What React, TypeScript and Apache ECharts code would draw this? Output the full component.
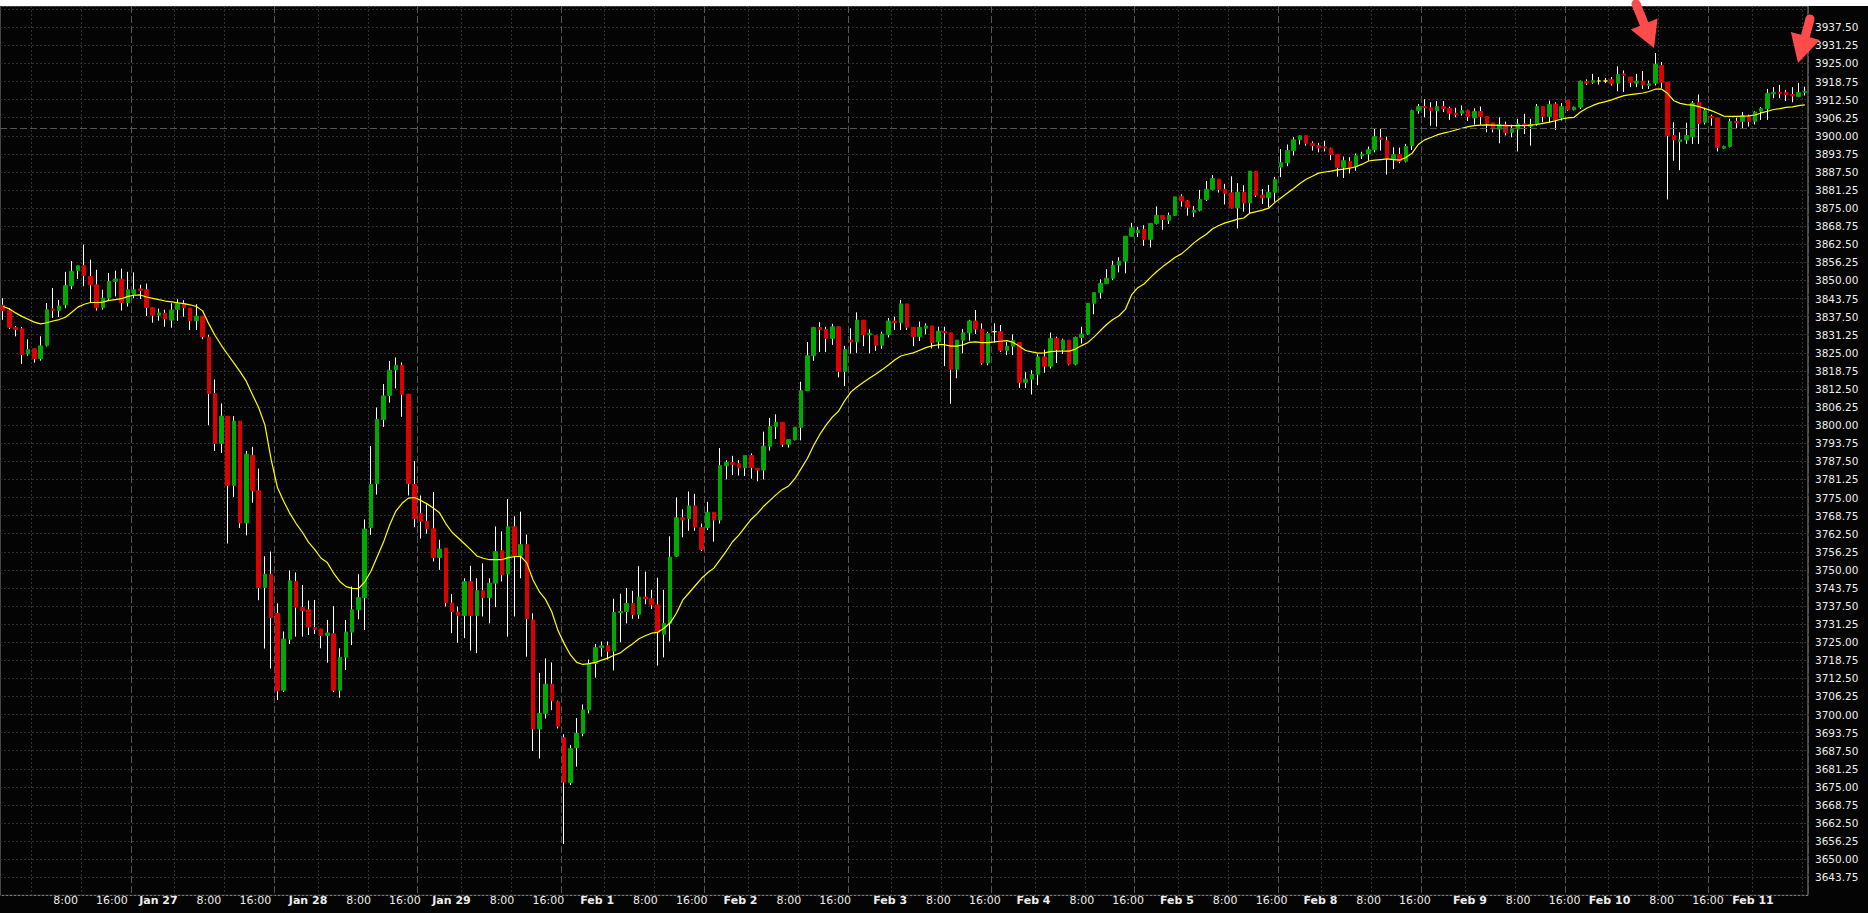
import React, { useEffect, useRef } from "react";
import * as echarts from "echarts";

// ---- data (hourly ES bars) ----
const dayNames = ["Jan 26", "Jan 27", "Jan 28", "Jan 29", "Feb 1", "Feb 2", "Feb 3", "Feb 4", "Feb 5", "Feb 8", "Feb 9", "Feb 10", "Feb 11"];
const hoursOfDay = ["0:00", "1:00", "2:00", "3:00", "4:00", "6:00", "7:00", "8:00", "9:00", "10:00", "11:00", "12:00", "13:00", "14:00", "15:00", "16:00", "17:00", "18:00", "19:00", "20:00", "21:00", "22:00", "23:00"];
const firstHourIndex = 2;

const openP = [
  3841.5, 3839.6, 3833.7, 3833.3, 3824.6, 3826.4, 3823.0, 3827.6, 3840.2, 3839.6, 3841.6, 3848.2, 3853.5, 3855.1, 3851.4, 3848.5, 3840.6, 3843.9, 3849.7, 3850.5, 3842.4,
  3845.1, 3847.1, 3846.8, 3840.6, 3838.0, 3838.7, 3836.3, 3840.0, 3842.1, 3840.5, 3836.1, 3837.7, 3830.4, 3810.9, 3793.7, 3803.1, 3779.2, 3801.4, 3766.2, 3789.6, 3777.3, 3743.9, 3748.5,
  3734.9, 3708.4, 3726.0, 3746.0, 3737.0, 3736.2, 3730.0, 3729.6, 3727.3, 3727.9, 3708.4, 3719.8, 3728.5, 3736.2, 3740.4, 3764.6, 3779.8, 3802.0, 3810.3, 3819.1, 3820.7, 3810.7, 3779.5,
  3769.5, 3766.8, 3764.2, 3754.3, 3757.5, 3738.5, 3735.4, 3734.2, 3745.9, 3734.2, 3742.8, 3740.4, 3745.4, 3756.6, 3748.6, 3764.9, 3755.0, 3758.7, 3732.7, 3695.0, 3700.4, 3710.5, 3704.4,
  3692.0, 3676.5, 3688.5, 3693.5, 3701.6, 3717.6, 3723.1, 3723.75, 3721.9, 3735.25, 3735.6, 3738.4, 3734.6, 3740.6, 3740.0, 3737.9, 3727.75, 3731.5, 3754.75, 3768.0, 3767.75, 3772.1, 3764.6,
  3764.6, 3769.9, 3767.25, 3786.0, 3787.1, 3786.75, 3785.25, 3789.5, 3785.1, 3784.5, 3792.75, 3799.5, 3801.0, 3793.4, 3795.0, 3799.25, 3811.9, 3824.0, 3833.75, 3833.1, 3830.0, 3834.0, 3818.5,
  3829.4, 3828.8, 3836.3, 3831.2, 3831.0, 3827.6, 3831.4, 3836.0, 3835.4, 3841.9, 3833.8, 3830.6, 3833.5, 3834.3, 3828.8, 3832.4, 3831.9, 3819.3, 3829.4, 3831.9, 3836.0, 3833.2, 3821.5,
  3832.3, 3832.3, 3825.9, 3827.3, 3828.5, 3814.8, 3815.9, 3817.6, 3823.6, 3820.4, 3830.0, 3826.2, 3829.4, 3821.1, 3830.3, 3831.5, 3842.1, 3845.8, 3849.0, 3850.8, 3855.3, 3856.7, 3865.3,
  3866.5, 3867.7, 3864.2, 3869.7, 3872.5, 3870.8, 3872.5, 3879.1, 3877.5, 3873.6, 3874.3, 3878.0, 3881.5, 3885.0, 3881.5, 3880.3, 3875.1, 3880.5, 3876.8, 3887.8, 3879.5, 3878.6, 3880.5,
  3889.2, 3890.7, 3894.9, 3898.6, 3900.0, 3897.4, 3896.6, 3896.2, 3895.7, 3893.5, 3889.1, 3891.2, 3889.3, 3893.1, 3893.7, 3895.2, 3899.3, 3898.3, 3892.0, 3893.5, 3891.2, 3896.6, 3908.7,
  3910.1, 3909.7, 3908.7, 3910.1, 3909.4, 3907.8, 3907.8, 3908.7, 3906.2, 3908.4, 3906.7, 3904.5, 3902.3, 3903.8, 3901.2, 3902.3, 3904.1, 3903.3, 3904.1, 3910.1, 3906.7, 3911.0, 3906.2,
  3912.2, 3909.0, 3909.9, 3918.8, 3918.5, 3918.95, 3918.95, 3919.5, 3918.2, 3921.4, 3920.3, 3918.2, 3918.9, 3917.4, 3918.2, 3924.3, 3918.5, 3900.1, 3898.0, 3898.6, 3899.7, 3911.6, 3904.7,
  3906.7, 3906.2, 3895.7, 3896.3, 3905.0, 3905.0, 3906.7, 3905.0, 3908.5, 3909.4, 3914.5, 3915.0, 3915.0, 3914.3, 3913.6, 3915.0,
];

const closeP = [
  3839.6, 3833.8, 3833.1, 3824.4, 3826.1, 3823.0, 3827.4, 3839.9, 3839.6, 3841.2, 3848.2, 3853.2, 3855.1, 3851.8, 3848.5, 3840.6, 3843.9, 3849.7, 3850.5, 3842.4, 3846.8,
  3846.8, 3846.6, 3840.7, 3838.0, 3838.8, 3836.7, 3839.8, 3842.0, 3840.6, 3836.1, 3837.7, 3830.6, 3810.9, 3793.7, 3803.1, 3779.2, 3801.4, 3766.2, 3790.0, 3777.3, 3743.9, 3748.5, 3733.5,
  3708.2, 3726.1, 3746.2, 3737.1, 3735.9, 3730.2, 3729.4, 3727.3, 3728.2, 3708.4, 3719.8, 3728.5, 3736.2, 3740.4, 3764.1, 3779.5, 3802.0, 3810.1, 3819.0, 3820.7, 3810.7, 3779.8, 3767.7,
  3766.8, 3764.2, 3754.3, 3757.2, 3738.7, 3735.6, 3734.2, 3745.9, 3734.2, 3742.8, 3740.4, 3745.4, 3756.3, 3748.3, 3764.9, 3755.0, 3758.7, 3733.2, 3695.0, 3700.4, 3710.5, 3704.8, 3696.0,
  3676.7, 3688.2, 3693.5, 3701.6, 3717.6, 3723.1, 3723.75, 3721.9, 3735.25, 3735.6, 3738.4, 3734.6, 3740.6, 3740.0, 3737.9, 3728.4, 3731.5, 3754.4, 3768.0, 3767.25, 3772.1, 3764.75, 3757.1,
  3769.9, 3767.25, 3786.0, 3787.1, 3786.5, 3785.25, 3789.5, 3785.4, 3784.5, 3792.75, 3799.5, 3801.0, 3793.4, 3795.0, 3799.25, 3811.9, 3824.0, 3833.75, 3833.0, 3830.0, 3834.0, 3818.5, 3826.1,
  3828.8, 3836.3, 3831.2, 3831.7, 3827.6, 3831.5, 3836.0, 3835.4, 3841.9, 3833.8, 3830.6, 3833.8, 3834.3, 3828.5, 3832.5, 3831.9, 3819.3, 3829.4, 3831.9, 3836.0, 3833.2, 3821.5, 3831.7,
  3832.3, 3825.9, 3827.3, 3829.2, 3814.8, 3815.9, 3817.6, 3823.6, 3820.4, 3830.0, 3826.2, 3829.4, 3821.1, 3830.3, 3831.5, 3842.1, 3845.8, 3849.0, 3850.8, 3855.3, 3856.7, 3865.3, 3868.2,
  3867.4, 3864.2, 3869.7, 3872.5, 3871.1, 3872.5, 3878.9, 3877.5, 3875.3, 3874.3, 3878.0, 3881.5, 3885.2, 3881.5, 3880.1, 3875.1, 3880.5, 3876.8, 3887.8, 3879.5, 3878.6, 3880.5, 3884.9,
  3890.7, 3894.9, 3898.6, 3900.0, 3897.4, 3896.6, 3895.8, 3895.8, 3893.5, 3889.1, 3891.4, 3889.1, 3893.1, 3893.7, 3895.2, 3899.7, 3898.7, 3892.2, 3893.5, 3891.2, 3896.3, 3908.7, 3910.1,
  3909.7, 3908.7, 3910.1, 3909.5, 3907.8, 3907.3, 3908.7, 3906.7, 3908.4, 3906.7, 3904.3, 3902.3, 3903.8, 3901.2, 3902.3, 3904.1, 3903.5, 3903.8, 3910.1, 3906.7, 3910.8, 3905.5, 3910.1,
  3909.0, 3909.9, 3918.8, 3918.2, 3919.1, 3918.95, 3918.95, 3918.0, 3921.2, 3920.9, 3918.5, 3918.9, 3917.6, 3918.0, 3924.7, 3918.5, 3900.1, 3898.6, 3898.6, 3900.1, 3911.3, 3904.3, 3908.7,
  3906.2, 3896.0, 3896.3, 3905.0, 3904.5, 3906.8, 3905.0, 3908.2, 3909.4, 3914.7, 3915.0, 3914.5, 3914.2, 3913.8, 3915.0, 3915.4,
];

const lowP = [
  3836.4, 3833.2, 3830.7, 3821.2, 3824.0, 3821.6, 3822.3, 3827.2, 3837.1, 3837.4, 3840.4, 3847.0, 3850.5, 3848.0, 3842.2, 3839.6, 3839.9, 3843.3, 3844.5, 3839.6, 3841.0,
  3843.9, 3843.6, 3837.7, 3835.4, 3836.1, 3834.0, 3833.7, 3836.1, 3837.5, 3832.9, 3832.9, 3829.7, 3800.0, 3791.1, 3790.4, 3759.1, 3775.2, 3764.5, 3761.9, 3773.2, 3739.5, 3722.8, 3715.9,
  3705.0, 3707.8, 3724.4, 3726.9, 3726.9, 3727.5, 3727.8, 3722.9, 3717.9, 3707.8, 3705.8, 3715.4, 3724.0, 3732.9, 3729.2, 3762.1, 3776.0, 3799.4, 3807.8, 3812.7, 3802.9, 3775.7, 3764.7,
  3760.8, 3762.5, 3752.9, 3750.0, 3737.3, 3728.1, 3724.8, 3726.4, 3722.1, 3721.2, 3733.9, 3731.5, 3737.1, 3746.0, 3726.9, 3733.9, 3747.1, 3720.0, 3687.4, 3684.8, 3698.6, 3701.5, 3695.2,
  3655.3, 3675.6, 3682.0, 3692.5, 3700.4, 3712.75, 3720.0, 3719.0, 3715.25, 3725.0, 3731.5, 3733.1, 3733.1, 3738.1, 3736.5, 3716.9, 3719.75, 3725.25, 3754.5, 3761.25, 3763.5, 3763.5, 3756.5,
  3763.75, 3759.75, 3766.0, 3781.25, 3782.75, 3782.6, 3782.4, 3781.5, 3780.6, 3781.25, 3791.25, 3795.25, 3792.5, 3792.25, 3794.75, 3794.75, 3811.9, 3822.25, 3825.25, 3825.25, 3827.75, 3816.5, 3813.5,
  3824.7, 3825.0, 3827.3, 3824.8, 3825.7, 3826.4, 3830.3, 3832.9, 3832.9, 3832.9, 3827.3, 3829.1, 3831.4, 3826.5, 3826.5, 3820.4, 3807.4, 3816.2, 3824.8, 3829.2, 3831.5, 3820.9, 3820.7,
  3828.5, 3825.3, 3824.2, 3824.2, 3812.9, 3812.9, 3810.6, 3813.8, 3818.1, 3819.6, 3821.5, 3824.6, 3820.7, 3820.7, 3828.2, 3831.2, 3838.3, 3843.8, 3848.9, 3850.2, 3852.8, 3852.5, 3865.3,
  3865.0, 3862.0, 3861.4, 3869.4, 3867.5, 3869.5, 3872.3, 3875.5, 3872.4, 3871.9, 3873.9, 3877.5, 3881.2, 3880.4, 3876.3, 3874.9, 3868.0, 3873.8, 3873.0, 3878.9, 3876.4, 3875.3, 3877.2,
  3885.7, 3889.5, 3893.2, 3897.0, 3896.6, 3894.9, 3894.3, 3894.6, 3891.6, 3885.9, 3885.4, 3887.0, 3887.9, 3892.0, 3891.4, 3894.3, 3894.9, 3886.6, 3888.5, 3890.5, 3890.8, 3895.1, 3907.6,
  3906.4, 3903.5, 3903.2, 3908.2, 3905.5, 3906.4, 3907.0, 3905.1, 3903.9, 3903.8, 3901.2, 3901.2, 3897.4, 3900.1, 3899.5, 3894.6, 3900.6, 3896.6, 3903.5, 3904.7, 3904.4, 3902.0, 3905.3,
  3908.6, 3908.8, 3909.3, 3917.6, 3918.0, 3917.7, 3918.2, 3917.4, 3915.4, 3915.1, 3916.8, 3916.8, 3916.2, 3916.2, 3917.4, 3916.6, 3878.0, 3891.4, 3888.1, 3897.2, 3897.2, 3897.2, 3903.9,
  3903.5, 3894.6, 3895.4, 3896.0, 3902.4, 3902.6, 3903.2, 3903.9, 3905.5, 3905.5, 3913.0, 3913.0, 3912.0, 3911.6, 3913.35, 3913.9,
];

const highP = [
  3843.9, 3840.4, 3834.3, 3833.9, 3829.7, 3826.4, 3830.7, 3842.2, 3847.4, 3843.3, 3853.0, 3856.7, 3855.2, 3862.4, 3857.2, 3853.7, 3846.8, 3852.6, 3853.4, 3854.1, 3853.0,
  3852.8, 3848.5, 3848.9, 3840.6, 3840.3, 3839.9, 3842.1, 3843.5, 3843.2, 3840.5, 3841.8, 3837.7, 3831.2, 3815.8, 3807.5, 3803.1, 3803.1, 3801.4, 3791.1, 3792.5, 3785.0, 3754.7, 3756.3,
  3738.4, 3728.7, 3749.8, 3749.1, 3744.8, 3739.4, 3739.6, 3729.6, 3732.7, 3737.5, 3722.9, 3732.7, 3744.2, 3748.5, 3767.4, 3792.8, 3806.1, 3814.2, 3822.2, 3823.4, 3821.7, 3810.7, 3787.6,
  3775.7, 3772.6, 3776.9, 3760.4, 3757.5, 3741.6, 3737.3, 3747.1, 3751.4, 3747.1, 3752.3, 3747.1, 3765.0, 3763.3, 3774.5, 3768.5, 3770.1, 3762.2, 3735.0, 3714.4, 3719.4, 3718.0, 3704.8,
  3693.2, 3689.4, 3698.75, 3703.5, 3719.0, 3724.4, 3725.25, 3725.25, 3740.0, 3741.75, 3743.75, 3742.75, 3751.25, 3749.4, 3743.1, 3747.25, 3743.1, 3761.6, 3775.0, 3770.9, 3777.1, 3776.25, 3766.0,
  3773.5, 3769.9, 3792.1, 3787.9, 3789.4, 3787.9, 3789.5, 3790.25, 3785.1, 3797.75, 3802.5, 3803.75, 3801.0, 3795.0, 3799.25, 3815.0, 3828.75, 3834.0, 3835.6, 3834.0, 3835.0, 3834.0, 3827.4,
  3833.5, 3839.0, 3836.3, 3833.1, 3831.0, 3832.3, 3837.0, 3837.5, 3843.3, 3841.9, 3833.8, 3835.8, 3835.2, 3834.3, 3834.0, 3834.0, 3831.9, 3829.4, 3833.2, 3836.4, 3839.8, 3835.2, 3832.3,
  3835.2, 3834.6, 3828.8, 3831.4, 3828.5, 3818.3, 3819.0, 3824.5, 3826.1, 3832.0, 3830.6, 3829.9, 3829.4, 3830.6, 3834.0, 3842.1, 3845.8, 3850.4, 3853.9, 3856.8, 3858.0, 3865.3, 3869.9,
  3868.5, 3869.1, 3869.7, 3875.6, 3872.5, 3873.5, 3878.9, 3879.8, 3877.8, 3875.7, 3881.3, 3884.4, 3886.4, 3885.0, 3883.4, 3886.0, 3883.6, 3882.9, 3887.8, 3887.8, 3881.6, 3883.0, 3885.8,
  3895.4, 3897.0, 3899.5, 3900.1, 3900.1, 3898.1, 3897.5, 3898.3, 3895.9, 3893.5, 3892.8, 3892.6, 3893.9, 3894.5, 3896.3, 3902.4, 3902.5, 3899.7, 3896.0, 3895.9, 3897.2, 3909.0, 3911.0,
  3912.6, 3911.6, 3912.0, 3912.0, 3910.1, 3909.7, 3910.5, 3909.0, 3909.5, 3910.1, 3906.7, 3904.5, 3906.4, 3904.9, 3903.8, 3905.9, 3907.6, 3905.9, 3911.0, 3910.1, 3912.2, 3911.6, 3911.3,
  3912.2, 3910.1, 3919.1, 3919.5, 3921.4, 3920.3, 3920.0, 3920.3, 3924.0, 3922.6, 3920.3, 3921.4, 3922.4, 3919.1, 3928.6, 3925.5, 3918.5, 3904.7, 3901.2, 3904.5, 3912.0, 3914.3, 3909.7,
  3907.3, 3906.2, 3896.6, 3905.9, 3906.2, 3908.2, 3907.3, 3908.5, 3909.9, 3916.2, 3916.8, 3917.6, 3915.9, 3916.8, 3918.3, 3917.0,
];

const maValues = [
  3841.0, 3840.2, 3838.8, 3837.6, 3836.6, 3835.6, 3835.0, 3835.4, 3836.0, 3836.5, 3837.3, 3839.0, 3840.8, 3841.8, 3842.4, 3842.4, 3842.5, 3843.1, 3843.4, 3843.7, 3844.5,
  3844.9, 3845.0, 3844.3, 3843.8, 3843.4, 3842.9, 3842.6, 3842.3, 3842.0, 3841.6, 3841.0, 3839.5, 3835.0, 3831.0, 3827.6, 3824.5, 3821.5, 3818.5, 3815.2, 3810.5, 3806.0, 3800.0, 3788.0,
  3778.5, 3773.7, 3769.5, 3766.0, 3763.0, 3759.5, 3757.0, 3754.0, 3752.5, 3748.9, 3746.0, 3744.2, 3743.6, 3743.5, 3745.8, 3749.5, 3754.5, 3759.5, 3765.5, 3770.3, 3773.0, 3774.8, 3775.0,
  3774.0, 3772.8, 3771.4, 3769.7, 3766.0, 3763.0, 3761.0, 3759.0, 3757.0, 3754.8, 3754.0, 3753.5, 3753.5, 3753.5, 3754.2, 3754.6, 3754.7, 3752.4, 3746.5, 3742.5, 3739.8, 3735.5, 3729.0,
  3724.5, 3720.6, 3718.0, 3717.3, 3717.6, 3718.0, 3718.8, 3719.5, 3720.5, 3721.3, 3723.0, 3724.5, 3726.2, 3727.2, 3728.1, 3728.4, 3729.8, 3731.7, 3735.0, 3739.5, 3742.0, 3744.5, 3747.0,
  3749.0, 3750.6, 3753.5, 3756.5, 3759.7, 3762.0, 3764.8, 3767.5, 3769.5, 3772.0, 3774.0, 3776.0, 3777.8, 3779.0, 3781.5, 3785.0, 3788.5, 3793.0, 3796.8, 3800.0, 3802.8, 3804.8, 3808.5,
  3811.5, 3813.3, 3814.8, 3816.3, 3817.7, 3819.2, 3820.8, 3822.5, 3823.9, 3824.5, 3825.0, 3825.9, 3826.8, 3827.4, 3827.8, 3827.8, 3827.3, 3827.3, 3827.8, 3828.6, 3828.8, 3828.5, 3828.5,
  3828.8, 3829.0, 3829.2, 3828.6, 3827.3, 3825.8, 3825.3, 3824.9, 3825.0, 3825.4, 3825.6, 3825.6, 3825.6, 3826.3, 3827.5, 3828.6, 3830.5, 3832.7, 3834.8, 3836.5, 3837.8, 3840.0, 3845.0,
  3847.5, 3848.8, 3851.0, 3853.0, 3854.8, 3856.4, 3858.0, 3859.2, 3861.0, 3863.0, 3864.6, 3866.0, 3867.9, 3869.0, 3869.9, 3870.5, 3871.2, 3871.6, 3873.3, 3873.8, 3874.3, 3875.0, 3877.0,
  3878.6, 3880.2, 3881.8, 3883.5, 3885.0, 3886.0, 3887.1, 3887.5, 3887.8, 3888.2, 3888.5, 3888.8, 3889.3, 3890.2, 3891.3, 3891.6, 3891.8, 3892.0, 3891.8, 3891.6, 3892.5, 3894.0, 3897.0,
  3898.6, 3899.4, 3900.3, 3900.9, 3901.4, 3902.0, 3902.6, 3903.2, 3903.5, 3903.7, 3903.8, 3903.7, 3903.6, 3903.5, 3903.5, 3903.5, 3903.5, 3903.7, 3903.9, 3904.3, 3904.7, 3905.2, 3905.8,
  3906.2, 3906.4, 3908.2, 3909.5, 3910.5, 3911.3, 3911.8, 3912.4, 3913.2, 3913.9, 3914.2, 3914.5, 3914.8, 3915.3, 3916.1, 3916.2, 3914.6, 3912.1, 3911.2, 3910.8, 3910.6, 3910.1, 3909.4,
  3908.7, 3907.8, 3906.8, 3906.7, 3906.7, 3906.8, 3906.9, 3907.2, 3907.9, 3908.5, 3909.1, 3909.4, 3909.8, 3910.0, 3910.4, 3910.7,
];

const referenceLevel = 3902.75;
const yMin = 3637.5;
const yMax = 3944.86;
const yStep = 6.25;
const yLabelTop = 3937.5;

const COLORS = {
  bg: "#040404",
  up: "#00a800",
  down: "#dc0000",
  doji: "#ffff00",
  wick: "#ffffff",
  ma: "#ffff00",
  grid: "#303030",
  dayLine: "#555555",
  frame: "#8a8a8a",
  text: "#eeeeee",
  arrow: "#ff4b4b",
};

function arrowPoints(tx: number, ty: number, px: number, py: number, shaftW: number, headW: number, headL: number) {
  const dx = px - tx;
  const dy = py - ty;
  const len = Math.hypot(dx, dy);
  const ux = dx / len;
  const uy = dy / len;
  const nx = -uy;
  const ny = ux;
  const bx = px - ux * headL;
  const by = py - uy * headL;
  return [
    [tx + (nx * shaftW) / 2, ty + (ny * shaftW) / 2],
    [bx + (nx * shaftW) / 2, by + (ny * shaftW) / 2],
    [bx + (nx * headW) / 2, by + (ny * headW) / 2],
    [px, py],
    [bx - (nx * headW) / 2, by - (ny * headW) / 2],
    [bx - (nx * shaftW) / 2, by - (ny * shaftW) / 2],
    [tx - (nx * shaftW) / 2, ty - (ny * shaftW) / 2],
  ];
}

export default function App() {
  const ref = useRef<HTMLDivElement>(null);

  useEffect(() => {
    document.body.style.margin = "0";
    document.body.style.background = "#ffffff";
    if (!ref.current) return;
    const chart = echarts.init(ref.current, null, { renderer: "svg" });

    const n = Math.min(openP.length, closeP.length, lowP.length, highP.length, maValues.length);

    // categories built from day names and session hours
    const cats: string[] = [];
    const hourOf: string[] = [];
    const dayOf: number[] = [];
    let d = 0;
    let h = firstHourIndex;
    while (cats.length < n) {
      cats.push(dayNames[d] + " " + hoursOfDay[h]);
      hourOf.push(hoursOfDay[h]);
      dayOf.push(d);
      h++;
      if (h >= hoursOfDay.length) {
        h = 0;
        d++;
      }
    }

    // axis labels: shown right-aligned a few bars after the gridline they belong to
    const labelAt: Record<number, { text: string; bold: boolean }> = {};
    for (let i = 0; i < n; i++) {
      const hr = hourOf[i];
      if (hr === "0:00" || hr === "8:00" || hr === "16:00") {
        const k = i + 7 + Math.round(dayOf[i] * 0.25);
        if (k < n - 4) {
          labelAt[k] = hr === "0:00" ? { text: dayNames[dayOf[i]], bold: true } : { text: hr, bold: false };
        }
      }
    }

    const wickData = cats.map((_, i) => [openP[i], closeP[i], lowP[i], highP[i]]);
    const bodyData = cats.map((_, i) => [
      openP[i],
      closeP[i],
      Math.min(openP[i], closeP[i]),
      Math.max(openP[i], closeP[i]),
    ]);

    const a1 = arrowPoints(1636, 4, 1654, 48, 9, 29, 26);
    const a2 = arrowPoints(1810, 19, 1798, 63, 9, 30, 28);

    const option: any = {
      animation: false,
      backgroundColor: COLORS.bg,
      grid: {
        left: 0,
        right: 60,
        top: 6,
        height: (yMax - yMin) * 2.8936,
        show: true,
        borderColor: COLORS.frame,
        borderWidth: 1,
        backgroundColor: "transparent",
      },
      xAxis: [
        {
          type: "category",
          data: cats,
          position: "bottom",
          boundaryGap: true,
          axisLine: { show: false },
          axisTick: { show: false },
          axisLabel: { show: false },
          splitLine: {
            show: true,
            interval: (i: number) => hourOf[i] === "8:00" || hourOf[i] === "16:00",
            lineStyle: { color: COLORS.grid, type: [2, 2], width: 1 },
          },
        },
        {
          type: "category",
          data: cats,
          position: "bottom",
          boundaryGap: true,
          axisLine: { show: false },
          axisTick: { show: false },
          axisLabel: { show: false },
          splitLine: {
            show: true,
            interval: (i: number) => hourOf[i] === "0:00",
            lineStyle: { color: COLORS.dayLine, type: [7, 3], width: 1 },
          },
        },
        {
          type: "category",
          data: cats,
          position: "bottom",
          boundaryGap: true,
          axisLine: { show: false },
          axisTick: { show: false },
          splitLine: { show: false },
          axisLabel: {
            show: true,
            interval: (i: number) => !!labelAt[i],
            formatter: (_v: string, i: number) => {
              const l = labelAt[i];
              if (!l) return "";
              return l.bold ? "{b|" + l.text + "}" : "{n|" + l.text + "}";
            },
            align: "right",
            verticalAlign: "middle",
            margin: 5,
            rich: {
              b: { color: COLORS.text, fontFamily: "DejaVu Sans", fontSize: 11, fontWeight: "bold" },
              n: { color: COLORS.text, fontFamily: "DejaVu Sans", fontSize: 11 },
            },
          },
        },
      ],
      yAxis: {
        type: "value",
        position: "right",
        min: yMin,
        max: yMax,
        interval: yStep,
        axisLine: { show: false },
        axisTick: { show: false },
        axisLabel: {
          margin: 7,
          showMinLabel: false,
          showMaxLabel: false,
          formatter: (v: number) => (v > yLabelTop + 0.01 ? "" : v.toFixed(2)),
          color: COLORS.text,
          fontFamily: "DejaVu Sans",
          fontSize: 10.5,
        },
        splitLine: { show: true, lineStyle: { color: COLORS.grid, type: [2, 2], width: 1 } },
      },
      series: [
        {
          name: "wicks",
          type: "candlestick",
          xAxisIndex: 0,
          data: wickData,
          barWidth: 1,
          itemStyle: {
            color: COLORS.wick,
            color0: COLORS.wick,
            borderColor: COLORS.wick,
            borderColor0: COLORS.wick,
            borderColorDoji: COLORS.wick,
            borderWidth: 1,
          },
          markLine: {
            silent: true,
            symbol: ["none", "none"],
            label: { show: false },
            lineStyle: { color: COLORS.dayLine, type: [7, 3], width: 1 },
            data: [{ yAxis: referenceLevel }],
          },
          z: 2,
        },
        {
          name: "bodies",
          type: "candlestick",
          xAxisIndex: 0,
          data: bodyData,
          barWidth: 4,
          itemStyle: {
            color: COLORS.up,
            color0: COLORS.down,
            borderColor: COLORS.up,
            borderColor0: COLORS.down,
            borderColorDoji: COLORS.doji,
            borderWidth: 1,
          },
          z: 3,
        },
        {
          name: "MA",
          type: "line",
          xAxisIndex: 0,
          data: maValues.slice(0, n),
          showSymbol: false,
          symbol: "none",
          lineStyle: { color: COLORS.ma, width: 1.2 },
          z: 4,
        },
      ],
      graphic: [
        { type: "rect", shape: { x: 0, y: 0, width: 1868, height: 6 }, style: { fill: "#ffffff" }, z: 50 },
        { type: "polygon", shape: { points: a1 }, style: { fill: COLORS.arrow }, z: 100 },
        { type: "circle", shape: { cx: 1636, cy: 4, r: 4.5 }, style: { fill: COLORS.arrow }, z: 100 },
        { type: "polygon", shape: { points: a2 }, style: { fill: COLORS.arrow }, z: 100 },
        { type: "circle", shape: { cx: 1810, cy: 19, r: 4.5 }, style: { fill: COLORS.arrow }, z: 100 },
      ],
    };

    chart.setOption(option);
    return () => chart.dispose();
  }, []);

  return <div ref={ref} style={{ width: 1868, height: 913 }} />;
}
